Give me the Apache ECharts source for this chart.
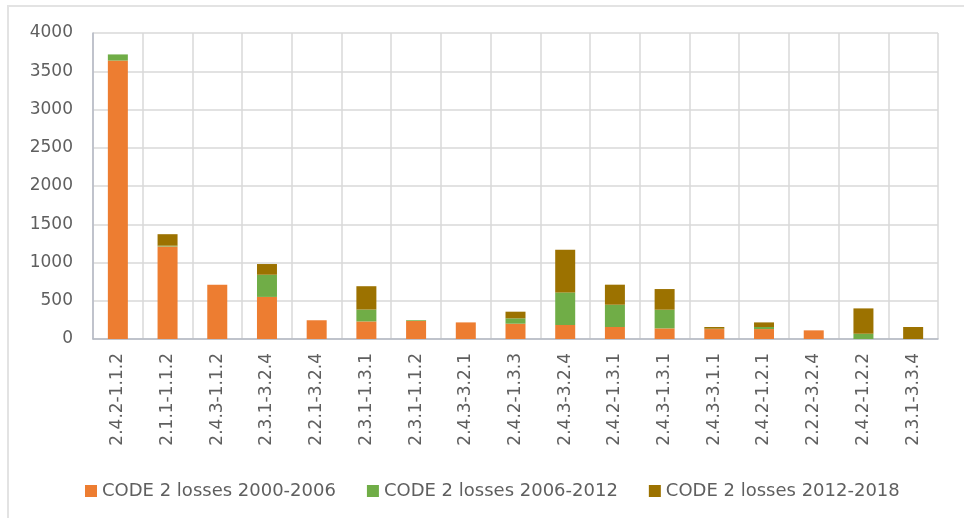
<!DOCTYPE html>
<html>
<head>
<meta charset="utf-8">
<script src="https://cdn.jsdelivr.net/npm/echarts@6/dist/echarts.min.js"></script>
<style>
  html, body { margin: 0; padding: 0; background: #fff; }
  .frame {
    position: absolute; left: 7px; top: 5px; width: 957px; height: 513px;
    border-top: 2px solid #e3e3e3; border-left: 2px solid #e3e3e3;
    box-sizing: border-box;
  }
  #chart { position: absolute; left: 0; top: 0; width: 964px; height: 518px; }
</style>
</head>
<body>
<div class="frame"></div>
<div id="chart"></div>
<script>
const categories = [
  '2.4.2-1.1.2', '2.1.1-1.1.2', '2.4.3-1.1.2', '2.3.1-3.2.4', '2.2.1-3.2.4',
  '2.3.1-1.3.1', '2.3.1-1.1.2', '2.4.3-3.2.1', '2.4.2-1.3.3', '2.4.3-3.2.4',
  '2.4.2-1.3.1', '2.4.3-1.3.1', '2.4.3-3.1.1', '2.4.2-1.2.1', '2.2.2-3.2.4',
  '2.4.2-1.2.2', '2.3.1-3.3.4'
]
const losses2000 = [3640, 1210, 710, 550, 245, 230, 235, 217, 200, 183, 157, 139, 130, 130, 113, 0, 0]
const losses2006 = [80, 10, 0, 290, 0, 155, 10, 0, 70, 426, 291, 244, 5, 27, 0, 69, 0]
const losses2012 = [0, 150, 0, 140, 0, 305, 0, 0, 87, 558, 262, 270, 22, 60, 0, 331, 157]
const seriesNames = ['CODE 2 losses 2000-2006', 'CODE 2 losses 2006-2012', 'CODE 2 losses 2012-2018']
const colors = ['#ED7D31', '#70AD47', '#9C7200']

const font = 'DejaVu Sans'
const textColor = '#5f5f5f'

const chart = echarts.init(document.getElementById('chart'))

chart.setOption({
  animation: false,
  color: colors,
  grid: { left: 93, right: 26, top: 33, bottom: 179, containLabel: false },
  legend: {
    top: 477,
    left: 80,
    itemWidth: 12,
    itemHeight: 12,
    itemGap: 31,
    icon: 'rect',
    textStyle: { color: textColor, fontFamily: font, fontSize: 18 },
    data: seriesNames,
  },
  xAxis: {
    type: 'category',
    data: categories,
    axisLine: { lineStyle: { color: '#b4b9c4', width: 1.5 } },
    axisTick: { show: false },
    splitLine: { show: true, lineStyle: { color: '#d9d9d9', width: 1.5 } },
    axisLabel: {
      rotate: 90,
      interval: 0,
      margin: 14,
      color: textColor,
      fontFamily: font,
      fontSize: 17,
    },
  },
  yAxis: {
    type: 'value',
    min: 0,
    max: 4000,
    interval: 500,
    axisLine: { show: true, lineStyle: { color: '#b4b9c4', width: 1.5 } },
    axisTick: { show: false },
    splitLine: { lineStyle: { color: '#d9d9d9', width: 1.5 } },
    axisLabel: {
      margin: 20,
      color: textColor,
      fontFamily: font,
      fontSize: 17,
      formatter: v => String(v),
    },
  },
  series: [losses2000, losses2006, losses2012].map((data, i) => ({
    name: seriesNames[i],
    type: 'bar',
    stack: 'losses',
    barWidth: 20,
    data,
  })),
})
</script>
</body>
</html>
